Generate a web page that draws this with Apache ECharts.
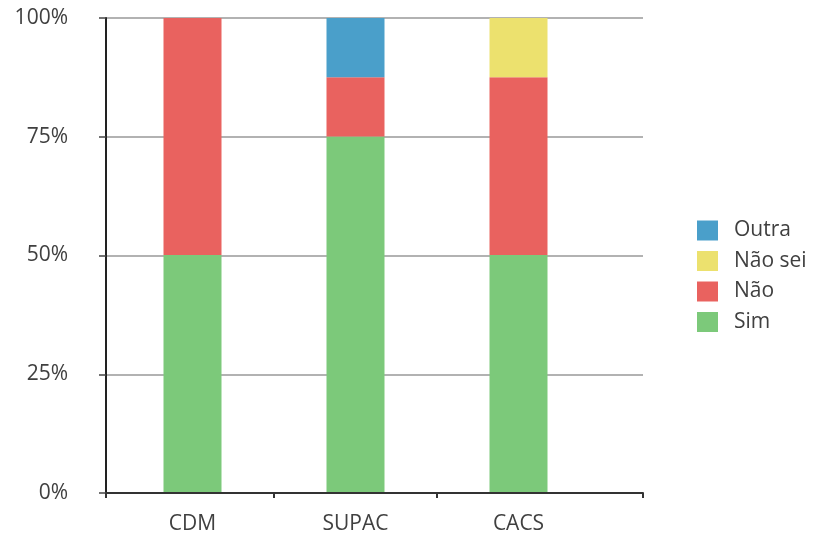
<!DOCTYPE html>
<html>
<head>
<meta charset="utf-8">
<script src="https://cdn.jsdelivr.net/npm/echarts@6/dist/echarts.min.js"></script>
<style>
  html, body { margin: 0; padding: 0; background: #fff; }
  #chart { width: 814px; height: 535px; }
</style>
</head>
<body>
<div id="chart"></div>
<script>
// Respostas por unidade (percentagens)
const categories = ['CDM', 'SUPAC', 'CACS'];
const sim = [50, 75, 50];
const nao = [50, 12.5, 37.5];
const naoSei = [0, 0, 12.5];
const outra = [0, 12.5, 0];
const yTicks = [0, 25, 50, 75, 100];

const FONT = '"Open Sans", "Liberation Sans", sans-serif';
const TEXT = '#404040';
const FS = 21;

// layout of the plot frame and of the column bands (px)
const frameLeft = 106, frameRight = 643;
const bandLeft = 111, bandWidth = 163;
const bandRight = bandLeft + bandWidth * categories.length;
// frame x axis expressed in band units, so its ticks fall on band boundaries
const frameMin = (frameLeft - bandLeft) / bandWidth;
const frameMax = (frameRight - bandLeft) / bandWidth;

function stackSeries(name, data, color) {
  return {
    name: name,
    type: 'bar',
    stack: 'total',
    xAxisIndex: 1,
    yAxisIndex: 1,
    barWidth: 58,
    data: data,
    itemStyle: { color: color },
    emphasis: { disabled: true }
  };
}

const chart = echarts.init(document.getElementById('chart'));
chart.setOption({
  animation: false,
  textStyle: { fontFamily: FONT },
  grid: [
    { left: frameLeft, right: 814 - frameRight, top: 18, bottom: 42 },
    { left: bandLeft, right: 814 - bandRight, top: 18, bottom: 42 }
  ],
  legend: {
    orient: 'vertical',
    left: 697,
    top: 220,
    padding: 0,
    itemWidth: 21,
    itemHeight: 20,
    itemGap: 9.5,
    icon: 'rect',
    data: ['Outra', 'Não sei', 'Não', 'Sim'],
    textStyle: { fontSize: FS, lineHeight: 20, color: TEXT, fontFamily: FONT, padding: [0, 0, 0, 11] }
  },
  xAxis: [
    {
      gridIndex: 0,
      type: 'value',
      min: frameMin,
      max: frameMax,
      axisLine: { show: true, onZero: false, lineStyle: { color: '#333', width: 2 } },
      axisTick: {
        show: true,
        length: 5,
        customValues: [frameMin, 1, 2, frameMax],
        lineStyle: { color: '#333', width: 2 }
      },
      axisLabel: { show: false },
      splitLine: { show: false }
    },
    {
      gridIndex: 1,
      type: 'category',
      data: categories,
      axisLine: { show: false },
      axisTick: { show: false },
      axisLabel: { fontSize: FS, color: TEXT, margin: 22, fontFamily: FONT },
      splitLine: { show: false }
    }
  ],
  yAxis: [
    {
      gridIndex: 0,
      type: 'value',
      min: yTicks[0],
      max: yTicks[yTicks.length - 1],
      interval: 25,
      axisLine: { show: true, onZero: false, lineStyle: { color: '#222', width: 2 } },
      axisTick: { show: true, length: 7, lineStyle: { color: '#444', width: 1.5 } },
      axisLabel: {
        fontSize: FS,
        color: TEXT,
        margin: 38,
        fontFamily: FONT,
        formatter: function (v) { return yTicks.indexOf(v) >= 0 ? v + '%' : ''; }
      },
      splitLine: { show: true, lineStyle: { color: '#999', width: 1.5 } }
    },
    {
      gridIndex: 1,
      type: 'value',
      min: yTicks[0],
      max: yTicks[yTicks.length - 1],
      show: false
    }
  ],
  series: [
    stackSeries('Sim', sim, '#7cc97a'),
    stackSeries('Não', nao, '#e9625f'),
    stackSeries('Não sei', naoSei, '#ece16e'),
    stackSeries('Outra', outra, '#4a9fca')
  ]
});
</script>
</body>
</html>
